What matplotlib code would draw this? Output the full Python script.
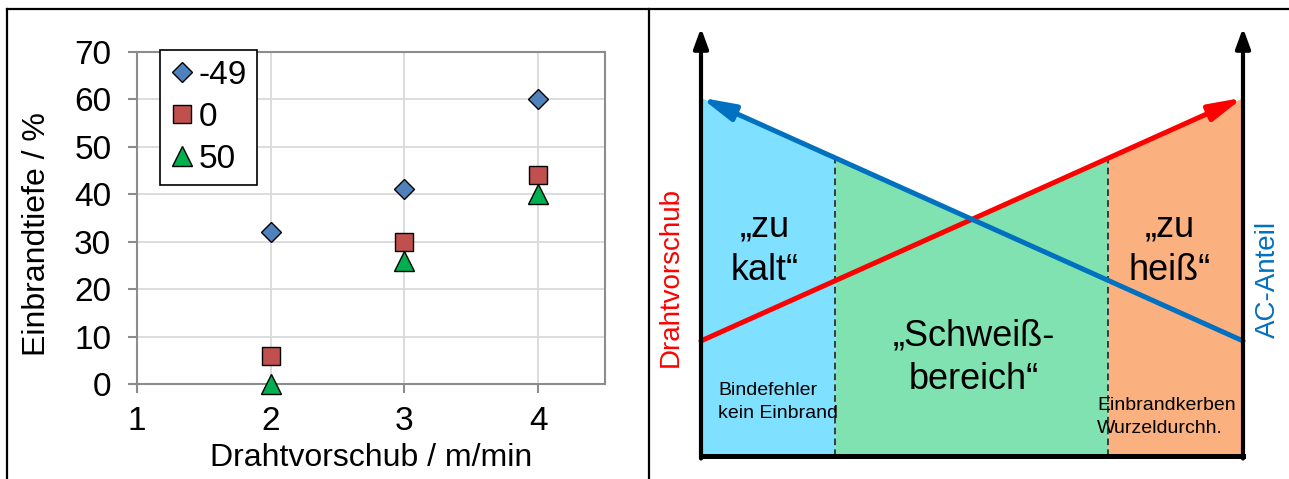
import numpy as np
import matplotlib
matplotlib.use('Agg')
import matplotlib.pyplot as plt
from matplotlib.lines import Line2D

plt.rcParams['font.family'] = ['Liberation Sans', 'DejaVu Sans']

# ---------------- left chart data ----------------
drahtvorschub = [2, 3, 4]
series_labels = ['-49', '0', '50']
einbrand_m49 = [32, 41, 60]
einbrand_0 = [6, 30, 44]
einbrand_50 = [0, 26, 40]
x_ticks = [1, 2, 3, 4]
y_ticks = [0, 10, 20, 30, 40, 50, 60, 70]

# ---------------- right schematic data (normalized 0..1) ----------------
zone_edges = [0.0, 0.247, 0.751, 1.0]
zone_colors = ['#80E0FF', '#80E2B0', '#FBB07F']
drahtvorschub_line = [0.268, 0.837]   # red, rising
ac_anteil_line = [0.837, 0.268]       # blue, falling
zone_texts = ['\u201Ezu\nkalt\u201C', '\u201ESchwei\u00DF-\nbereich\u201C', '\u201Ezu\nhei\u00DF\u201C']
zone_text_pos = [(0.118, 0.483), (0.504, 0.228), (0.865, 0.483)]
note_texts = ['Bindefehler\nkein Einbrand', 'Einbrandkerben\nWurzeldurchh.']
note_pos = [(0.032, 0.125), (0.731, 0.090)]

W, H = 1289, 479
fig = plt.figure(figsize=(W / 100, H / 100), dpi=100)

# panel frames
def px(x, y):
    return x / W, 1 - y / H

for xs, ys in [([6.5, 6.5], [479, 9]), ([6.5, 647], [9, 9]),
               ([649, 649], [479, 9]), ([649, 1289], [9, 9])]:
    p0 = px(xs[0], ys[0]); p1 = px(xs[1], ys[1])
    fig.add_artist(Line2D([p0[0], p1[0]], [p0[1], p1[1]], color='black',
                          lw=1.6, transform=fig.transFigure))

# ---------------- left chart ----------------
ax = fig.add_axes([137 / W, (H - 384) / H, (605 - 137) / W, (384 - 51.7) / H])
ax.set_xlim(1, 4.5)
ax.set_ylim(0, 70)
ax.set_xticks(x_ticks)
ax.set_yticks(y_ticks)
ax.grid(True, color='#D9D9D9', lw=1.3)
ax.set_axisbelow(True)
for s in ax.spines.values():
    s.set_color('#8C8C8C')
    s.set_linewidth(1.5)
ax.tick_params(axis='both', colors='#8C8C8C', labelcolor='black', labelsize=24,
               length=6.5, width=1.5)
ax.tick_params(axis='x', pad=9)
ax.tick_params(axis='y', pad=12)

styles = [('D', '#4F81BD', 9.7), ('s', '#C0504D', 13.5), ('^', '#00B050', 14)]
for vals, lab, (mk, col, ms) in zip([einbrand_m49, einbrand_0, einbrand_50], series_labels, styles):
    ax.plot(drahtvorschub, vals, linestyle='none', marker=mk, ms=ms, mfc=col,
            mec='black', mew=1.0, label=lab, clip_on=False, zorder=3)

leg = ax.legend(loc='upper left', bbox_to_anchor=(0.049, 1.006), fontsize=24,
                frameon=True, fancybox=False, edgecolor='black', framealpha=1,
                handlelength=0.7, handletextpad=0.15, labelspacing=0.33,
                borderpad=0.3, borderaxespad=0)
leg.get_frame().set_linewidth(1.2)

ax.set_xlabel('Drahtvorschub / m/min', fontsize=23)
ax.xaxis.set_label_coords(0.5, -0.178)
ax.set_ylabel('Einbrandtiefe / %', fontsize=23)
ax.yaxis.label.set_verticalalignment('center')
ax.yaxis.set_label_coords(-0.2137, 0.451)

# ---------------- right schematic ----------------
bx = fig.add_axes([701 / W, (H - 455.5) / H, 542 / W, 427.5 / H])
bx.set_xlim(0, 1)
bx.set_ylim(0, 1)
bx.axis('off')

red0, red1 = drahtvorschub_line
blu0, blu1 = ac_anteil_line
x_cross = (blu0 - red0) / ((red1 - red0) - (blu1 - blu0))
xs = np.array(sorted(zone_edges + [x_cross]))
red_y = np.interp(xs, [0, 1], drahtvorschub_line)
blu_y = np.interp(xs, [0, 1], ac_anteil_line)
top_y = np.maximum(red_y, blu_y)

for i, col in enumerate(zone_colors):
    lo, hi = zone_edges[i], zone_edges[i + 1]
    m = (xs >= lo - 1e-9) & (xs <= hi + 1e-9)
    bx.fill_between(xs[m], 0, top_y[m], color=col, lw=0, zorder=1)

for e in zone_edges[1:-1]:
    t = np.interp(e, xs, top_y)
    bx.plot([e, e], [0, t], color='#222222', lw=1.2, dashes=(4, 2.5), zorder=2)

line_arrow = '-|>,head_length=1.0,head_width=0.25'
bx.annotate('', xy=(1, red1), xytext=(0, red0),
            arrowprops=dict(arrowstyle=line_arrow, color='#FF0000',
                            lw=3.6, mutation_scale=20, shrinkA=0, shrinkB=0),
            zorder=3, annotation_clip=False)
bx.annotate('', xy=(0, blu0), xytext=(1, blu1),
            arrowprops=dict(arrowstyle=line_arrow, color='#0070C0',
                            lw=3.6, mutation_scale=20, shrinkA=0, shrinkB=0),
            zorder=4, annotation_clip=False)

# black axes
for xa in [0, 1]:
    bx.annotate('', xy=(xa, 1), xytext=(xa, -0.007),
                arrowprops=dict(arrowstyle='-|>,head_length=0.6,head_width=0.22', color='black',
                                lw=3.0, mutation_scale=20, shrinkA=0, shrinkB=0),
                zorder=5, annotation_clip=False)
bx.plot([0, 1], [0, 0], color='black', lw=3.6, solid_capstyle='projecting',
        zorder=5, clip_on=False)

for txt, (tx, ty) in zip(zone_texts, zone_text_pos):
    bx.text(tx, ty, txt, ha='center', va='center', fontsize=26, linespacing=1.3, zorder=6)
for txt, (tx, ty) in zip(note_texts, note_pos):
    bx.text(tx, ty, txt, ha='left', va='center', fontsize=14, linespacing=1.4, zorder=6)

bx.text(-0.055, 0.418, 'Drahtvorschub', color='#FF0000', fontsize=20, rotation=90,
        ha='center', va='center', clip_on=False)
bx.text(1.046, 0.413, 'AC-Anteil', color='#0070C0', fontsize=20, rotation=90,
        ha='center', va='center', clip_on=False)

fig.savefig('out.png', dpi=100)
